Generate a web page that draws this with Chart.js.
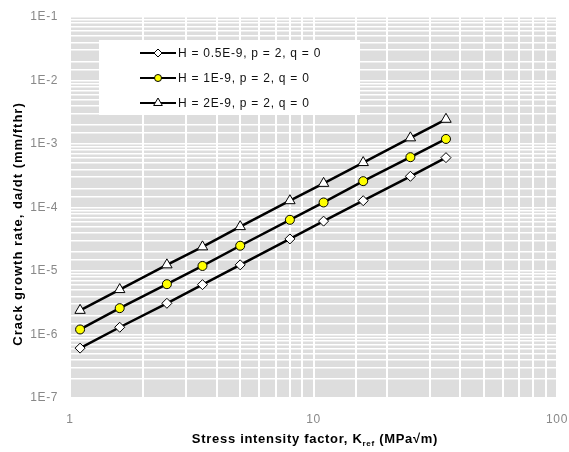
<!DOCTYPE html>
<html>
<head>
<meta charset="utf-8">
<script src="https://cdn.jsdelivr.net/npm/chart.js@4/dist/chart.umd.min.js"></script>
<style>
html,body{margin:0;padding:0;background:#fff;}
#wrap{position:relative;width:569px;height:452px;}
</style>
</head>
<body>
<div id="wrap"><canvas id="c" width="569" height="452"></canvas></div>
<script>
// Data
const kValues = [1.1, 1.6, 2.5, 3.5, 5, 8, 11, 16, 25, 35];
const seriesLow  = [6.1e-7, 1.3e-6, 3.1e-6, 6.1e-6, 1.25e-5, 3.2e-5, 6.1e-5, 1.28e-4, 3.1e-4, 6.1e-4];
const seriesMid  = [1.2e-6, 2.6e-6, 6.2e-6, 1.2e-5, 2.5e-5, 6.4e-5, 1.2e-4, 2.6e-4, 6.2e-4, 1.2e-3];
const seriesHigh = [2.4e-6, 5.1e-6, 1.25e-5, 2.4e-5, 5.0e-5, 1.28e-4, 2.4e-4, 5.1e-4, 1.25e-3, 2.45e-3];
const seriesLabels = ['H = 0.5E-9, p = 2, q = 0', 'H = 1E-9, p = 2, q = 0', 'H = 2E-9, p = 2, q = 0'];
const xTickLabels = ['1', '10', '100'];
const yTickLabels = ['1E-7', '1E-6', '1E-5', '1E-4', '1E-3', '1E-2', '1E-1'];
const xTitleMain = 'Stress intensity factor, K';
const xTitleSub = 'ref';
const xTitleEnd = ' (MPa\u221Am)';
const yTitle = 'Crack growth rate, da/dt (mm/fthr)';

const FONT = '"Liberation Sans", Arial, sans-serif';

function toPoints(ys) { return kValues.map((k, i) => ({x: k, y: ys[i]})); }

function labelFor(value, labels) {
  const e = Math.log10(value);
  if (Math.abs(e - Math.round(e)) < 1e-6) {
    const s = Math.round(e);
    for (const l of labels) {
      if (Math.abs(Math.log10(Number(l)) - s) < 1e-6) return l;
    }
  }
  return '';
}

const markerStyles = [
  {pointStyle: 'rectRot', radius: 5, bg: '#ffffff'},
  {pointStyle: 'circle', radius: 4.5, bg: '#ffff00'},
  {pointStyle: 'triangle', radius: 6, bg: '#ffffff'}
];

const bgPlugin = {
  id: 'plotBg',
  beforeDraw(chart) {
    const {ctx, chartArea: a} = chart;
    ctx.letterSpacing = '0.6px';
    ctx.save();
    ctx.fillStyle = '#dddddd';
    ctx.fillRect(a.left, a.top, a.right - a.left, a.bottom - a.top);
    ctx.restore();
  }
};

function drawMarker(ctx, style, r, bg, x, y) {
  ctx.save();
  ctx.fillStyle = bg;
  ctx.strokeStyle = '#000';
  ctx.lineWidth = 1;
  ctx.beginPath();
  if (style === 'circle') {
    ctx.arc(x, y, r, 0, Math.PI * 2);
  } else if (style === 'rectRot') {
    ctx.moveTo(x, y - r); ctx.lineTo(x + r, y); ctx.lineTo(x, y + r); ctx.lineTo(x - r, y); ctx.closePath();
  } else {
    ctx.moveTo(x, y - r); ctx.lineTo(x + r * 0.87, y + r * 0.5); ctx.lineTo(x - r * 0.87, y + r * 0.5); ctx.closePath();
  }
  ctx.fill();
  ctx.stroke();
  ctx.restore();
}

const legendPlugin = {
  id: 'innerLegend',
  afterDatasetsDraw(chart) {
    const ctx = chart.ctx;
    ctx.save();
    ctx.fillStyle = '#ffffff';
    ctx.fillRect(99, 40, 261, 75);
    const rows = [53, 78, 103];
    chart.data.datasets.forEach((ds, i) => {
      const y = rows[i];
      ctx.strokeStyle = '#000';
      ctx.lineWidth = 2;
      ctx.beginPath();
      ctx.moveTo(140, y); ctx.lineTo(176, y);
      ctx.stroke();
      const m = markerStyles[i];
      drawMarker(ctx, m.pointStyle, m.radius - 1, m.bg, 158, y);
      ctx.fillStyle = '#111';
      ctx.font = '12px ' + FONT;
      ctx.letterSpacing = '0.75px';
      ctx.textBaseline = 'middle';
      ctx.textAlign = 'left';
      ctx.fillText(ds.label, 178, y + 1);
    });
    ctx.restore();
  }
};

const titlePlugin = {
  id: 'axisTitles',
  afterDraw(chart) {
    const ctx = chart.ctx;
    ctx.save();
    ctx.fillStyle = '#000';
    ctx.textBaseline = 'alphabetic';
    ctx.letterSpacing = '0.7px';
    const bold = 'bold 13px ' + FONT;
    const subF = 'bold 8px ' + FONT;
    ctx.font = bold;
    const w1 = ctx.measureText(xTitleMain).width;
    const w3 = ctx.measureText(xTitleEnd).width;
    ctx.font = subF;
    const w2 = ctx.measureText(xTitleSub).width;
    const total = w1 + w2 + w3;
    let x = 315 - total / 2;
    const base = 443;
    ctx.textAlign = 'left';
    ctx.font = bold;
    ctx.fillText(xTitleMain, x, base);
    x += w1;
    ctx.font = subF;
    ctx.fillText(xTitleSub, x, base + 3);
    x += w2;
    ctx.font = bold;
    ctx.fillText(xTitleEnd, x, base);
    // y title
    ctx.letterSpacing = '1px';
    ctx.translate(18, 224);
    ctx.rotate(-Math.PI / 2);
    ctx.textAlign = 'center';
    ctx.textBaseline = 'middle';
    ctx.font = bold;
    ctx.fillText(yTitle, 0, 0);
    ctx.restore();
  }
};

const datasets = [seriesLow, seriesMid, seriesHigh].map((ys, i) => ({
  label: seriesLabels[i],
  data: toPoints(ys),
  borderColor: '#000000',
  borderWidth: 2.5,
  pointStyle: markerStyles[i].pointStyle,
  pointRadius: markerStyles[i].radius,
  pointBackgroundColor: markerStyles[i].bg,
  pointBorderColor: '#000000',
  pointBorderWidth: 1,
  fill: false,
  tension: 0
}));

new Chart(document.getElementById('c'), {
  type: 'line',
  data: {datasets},
  plugins: [bgPlugin, legendPlugin, titlePlugin],
  options: {
    responsive: false,
    animation: false,
    layout: {padding: {left: 0, right: 12, top: 17, bottom: 0}},
    plugins: {legend: {display: false}, tooltip: {enabled: false}},
    scales: {
      x: {
        type: 'logarithmic',
        min: 1, max: 100,
        border: {display: false},
        grid: {color: '#ffffff', lineWidth: 2, drawTicks: false},
        ticks: {
          autoSkip: false, maxRotation: 0, padding: 14,
          color: '#888888', font: {family: FONT, size: 12},
          callback: (v) => labelFor(v, xTickLabels)
        },
        afterFit(s) { s.height = 54; s.paddingLeft = 0; s.paddingRight = 0; }
      },
      y: {
        type: 'logarithmic',
        min: 1e-7, max: 1e-1,
        border: {display: false},
        grid: {color: '#ffffff', lineWidth: 1.5, drawTicks: false},
        ticks: {
          autoSkip: false, padding: 12,
          color: '#888888', font: {family: FONT, size: 12},
          callback: (v) => labelFor(v, yTickLabels)
        },
        afterFit(s) { s.width = 70; s.paddingTop = 0; s.paddingBottom = 0; }
      }
    }
  }
});
</script>
</body>
</html>
